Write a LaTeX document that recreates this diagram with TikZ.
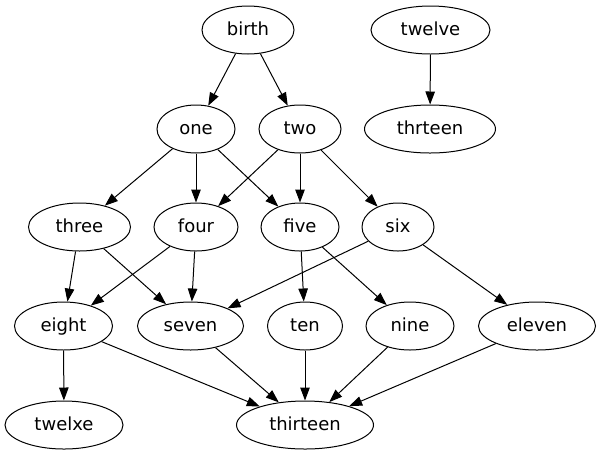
\documentclass[tikz,border=0pt]{standalone}
\usepackage{fontspec}
\setmainfont{DejaVu Sans}
\usetikzlibrary{shapes.geometric,arrows.meta}
\begin{document}
\begin{tikzpicture}[x=1pt,y=-1pt,
  gv/.style={draw, ellipse, line width=1pt, minimum height=48pt, inner sep=0pt,
    text height=14pt, text depth=4pt, font=\fontsize{18}{20}\selectfont},
  edge/.style={line width=1pt, -{Triangle[length=13pt,width=9.5pt]}}]
\useasboundingbox (0,0) rectangle (601,456);
\node[gv, minimum width=92pt]  (birth)    at (248,30)   {birth};
\node[gv, minimum width=119pt] (twelve)   at (430.5,30) {twelve};
\node[gv, minimum width=78pt]  (one)      at (196,129)  {one};
\node[gv, minimum width=82pt]  (two)      at (300,129)  {two};
\node[gv, minimum width=131pt] (thrteen)  at (430,129)  {thrteen};
\node[gv, minimum width=102pt] (three)    at (79.5,227) {three};
\node[gv, minimum width=84pt]  (four)     at (196,227)  {four};
\node[gv, minimum width=78pt]  (five)     at (300,227)  {five};
\node[gv, minimum width=72pt]  (six)      at (398,227)  {six};
\node[gv, minimum width=98pt]  (eight)    at (63.5,326) {eight};
\node[gv, minimum width=106pt] (seven)    at (190.5,326){seven};
\node[gv, minimum width=75pt]  (ten)      at (305,326)  {ten};
\node[gv, minimum width=88pt]  (nine)     at (410,326)  {nine};
\node[gv, minimum width=117pt] (eleven)   at (537,326)  {eleven};
\node[gv, minimum width=118pt] (twelxe)   at (64,425)   {twelxe};
\node[gv, minimum width=137pt] (thirteen) at (305,425)  {thirteen};
\draw[edge] (birth) -- (one);
\draw[edge] (birth) -- (two);
\draw[edge] (twelve) -- (thrteen);
\draw[edge] (one) -- (three);
\draw[edge] (one) -- (four);
\draw[edge] (one) -- (five);
\draw[edge] (two) -- (four);
\draw[edge] (two) -- (five);
\draw[edge] (two) -- (six);
\draw[edge] (three) -- (eight);
\draw[edge] (three) -- (seven);
\draw[edge] (four) -- (eight);
\draw[edge] (four) -- (seven);
\draw[edge] (five) -- (ten);
\draw[edge] (five) -- (nine);
\draw[edge] (six) -- (seven);
\draw[edge] (six) -- (eleven);
\draw[edge] (eight) -- (twelxe);
\draw[edge] (eight) -- (thirteen);
\draw[edge] (seven) -- (thirteen);
\draw[edge] (ten) -- (thirteen);
\draw[edge] (nine) -- (thirteen);
\draw[edge] (eleven) -- (thirteen);
\end{tikzpicture}
\end{document}
